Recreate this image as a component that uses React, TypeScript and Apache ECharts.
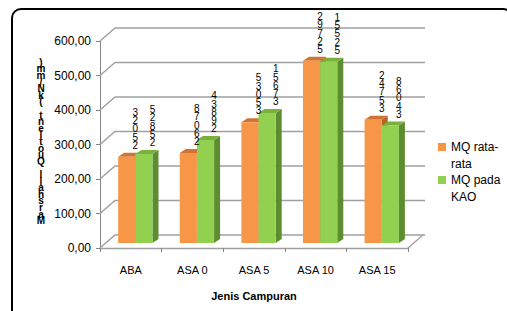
import React, { useEffect, useRef } from 'react';
import * as echarts from 'echarts';

const categories = ['ABA', 'ASA 0', 'ASA 5', 'ASA 10', 'ASA 15'];
const mqRataRata = [250.23, 260.78, 350.35, 527.92, 357.42];
const mqPadaKAO = [258.25, 298.34, 376.51, 525.51, 340.68];
const seriesNames = ['MQ rata-rata', 'MQ pada KAO'];
const legendLabels = ['MQ rata-\nrata', 'MQ pada\nKAO'];
const yTicks = [0, 100, 200, 300, 400, 500, 600];
const yAxisTitle = 'Marshall Quotient (kN/mm)';
const xAxisTitle = 'Jenis Campuran';

const FONT = '"Liberation Sans", Arial, sans-serif';
const stacked = (s: string) => s.split('').reverse().join('\n');
const labelText = (v: number) => stacked(v.toFixed(2).replace('.', ''));

const DX = 6;
const DY = -4;
const BASE_SHIFT = -5;
const slotOffset = [-0.205, 0.074];
const barFrac = 0.278;

const palettes = [
  { front: '#F79646', top: '#CF7433', side: '#B8622A' },
  { front: '#92D050', top: '#7AB03E', side: '#5E8C30' },
];

function barSeries(name: string, values: number[], slot: number) {
  const pal = palettes[slot];
  return {
    type: 'custom',
    name,
    z: 3,
    itemStyle: { color: pal.front },
    data: values.map((v, i) => [i, v]),
    renderItem: (params: any, api: any) => {
      const i = api.value(0);
      const v = api.value(1);
      const bw = api.size([1, 0])[0];
      const w = bw * barFrac;
      const c = api.coord([i, 0]);
      const t = api.coord([i, v]);
      const x = c[0] + bw * slotOffset[slot];
      const y0 = c[1] + BASE_SHIFT;
      const y1 = t[1] + BASE_SHIFT;
      return {
        type: 'group',
        children: [
          {
            type: 'polygon',
            shape: { points: [[x + w, y1], [x + w + DX, y1 + DY], [x + w + DX, y0 + DY], [x + w, y0]] },
            style: { fill: pal.side },
          },
          {
            type: 'polygon',
            shape: { points: [[x, y1], [x + w, y1], [x + w + DX, y1 + DY], [x + DX, y1 + DY]] },
            style: { fill: pal.top },
          },
          {
            type: 'rect',
            shape: { x, y: y1, width: w, height: y0 - y1 },
            style: { fill: pal.front },
          },
        ],
      };
    },
  };
}

function labelSeries() {
  const data = [
    ...mqRataRata.map((v, i) => [i, v, 0]),
    ...mqPadaKAO.map((v, i) => [i, v, 1]),
  ];
  return {
    type: 'custom',
    name: 'labels',
    z: 5,
    silent: true,
    data,
    renderItem: (params: any, api: any) => {
      const i = api.value(0);
      const v = api.value(1);
      const slot = api.value(2);
      const bw = api.size([1, 0])[0];
      const w = bw * barFrac;
      const t = api.coord([i, v]);
      const c = api.coord([i, 0]);
      const x = c[0] + bw * slotOffset[slot] + w;
      return {
        type: 'text',
        x,
        y: t[1] + BASE_SHIFT - 7,
        style: {
          text: labelText(v),
          font: `10px ${FONT}`,
          fill: '#000',
          textAlign: 'center',
          textVerticalAlign: 'bottom',
          lineHeight: 8.3,
        },
      };
    },
  };
}

function wallSeries() {
  return {
    type: 'custom',
    name: 'wall',
    z: 1,
    silent: true,
    data: yTicks.map((v) => [0, v]),
    renderItem: (params: any, api: any) => {
      const v = api.value(1);
      const cs = params.coordSys;
      const y = api.coord([0, v])[1];
      const x0 = cs.x;
      const x1 = cs.x + cs.width;
      const children: any[] = [
        {
          type: 'polyline',
          shape: { points: [[x0, y], [x0 + 15, y - 13], [x1 + 17, y - 13]] },
          style: { stroke: '#A0A0A0', lineWidth: 1.4, fill: 'none' },
        },
      ];
      if (v === 0) {
        children.push({
          type: 'line',
          shape: { x1: x1, y1: y, x2: x1 + 15, y2: y - 13 },
          style: { stroke: '#A0A0A0', lineWidth: 1.4 },
        });
      }
      return { type: 'group', children };
    },
  };
}

export default function App() {
  const ref = useRef<HTMLDivElement>(null);
  useEffect(() => {
    if (!ref.current) return;
    const chart = echarts.init(ref.current, undefined, { renderer: 'svg' });
    chart.setOption({
      animation: false,
      backgroundColor: '#fff',
      grid: { left: 100, right: 99, top: 41, bottom: 63 },
      xAxis: {
        type: 'category',
        data: categories,
        name: xAxisTitle,
        nameLocation: 'middle',
        nameGap: 42,
        nameTextStyle: { fontFamily: FONT, fontSize: 11, fontWeight: 'bold', color: '#000', verticalAlign: 'top' },
        axisLine: { show: true, lineStyle: { color: '#A0A0A0', width: 1.4 } },
        axisTick: { show: true, length: 4, interval: 0, lineStyle: { color: '#868686' } },
        axisLabel: { margin: 16, fontFamily: FONT, fontSize: 11, color: '#000' },
        splitLine: { show: false },
      },
      yAxis: {
        type: 'value',
        min: 0,
        max: 600,
        interval: 100,
        axisLine: { show: true, lineStyle: { color: '#868686' } },
        axisTick: { show: true, length: 4, lineStyle: { color: '#868686' } },
        axisLabel: {
          margin: 9,
          fontFamily: FONT,
          fontSize: 12,
          color: '#000',
          formatter: (v: number) => v.toFixed(2).replace('.', ','),
        },
        splitLine: { show: false },
      },
      legend: {
        orient: 'vertical',
        left: 433,
        top: 116.5,
        itemWidth: 8,
        itemHeight: 8,
        itemGap: -18,
        icon: 'rect',
        data: seriesNames,
        formatter: (name: string) => '\n' + legendLabels[seriesNames.indexOf(name)],
        textStyle: { fontFamily: FONT, fontSize: 12, color: '#000', lineHeight: 17 },
      },
      graphic: [
        {
          type: 'rect',
          shape: { x: 12, y: 9, width: 500, height: 330, r: 9 },
          style: { fill: 'none', stroke: '#000', lineWidth: 2 },
          z: 10,
        },
        {
          type: 'text',
          x: 41,
          y: 59,
          style: {
            text: stacked(yAxisTitle),
            font: `bold 10px ${FONT}`,
            fill: '#000',
            textAlign: 'center',
            textVerticalAlign: 'top',
            lineHeight: 6.6,
          },
        },
      ],
      series: [
        wallSeries(),
        barSeries(seriesNames[0], mqRataRata, 0),
        barSeries(seriesNames[1], mqPadaKAO, 1),
        labelSeries(),
      ],
    });
    return () => chart.dispose();
  }, []);
  return <div ref={ref} style={{ position: 'fixed', left: 0, top: 0, width: 507, height: 311 }} />;
}
